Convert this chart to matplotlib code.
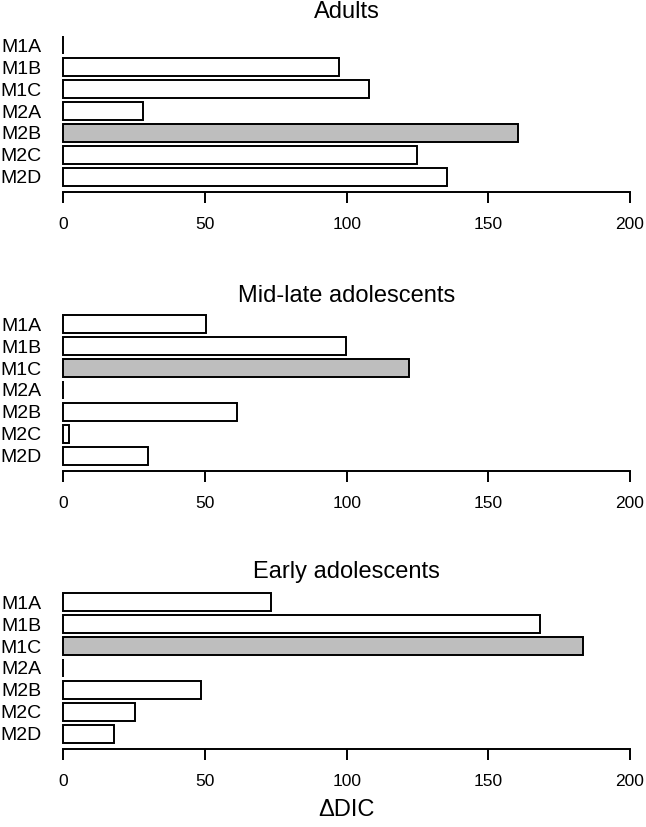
import numpy as np
import matplotlib.pyplot as plt

plt.rcParams['font.family'] = ['Liberation Sans', 'DejaVu Sans']

# model names, top to bottom
models = ['M1A', 'M1B', 'M1C', 'M2A', 'M2B', 'M2C', 'M2D']

# delta DIC per group
adults = [0, 97.2, 107.8, 28.0, 160.5, 125.0, 135.3]
mid_late = [50.4, 99.7, 121.9, 0, 61.4, 1.9, 29.8]
early = [73.3, 168.1, 183.5, 0, 48.6, 25.4, 17.9]

# which model is highlighted in grey for each group
best = ['M2B', 'M1C', 'M1C']

titles = ['Adults', 'Mid-late adolescents', 'Early adolescents']
xticks = [0, 50, 100, 150, 200]

W, H = 646, 827
fig = plt.figure(figsize=(W / 100, H / 100), dpi=100)

# axes placement in pixels (top, bottom) and title pad per panel
left_px, right_px = 63.3, 630
panels = [(30, 192, 8.4), (309, 471, 5.3), (587, 749, 6.3)]

# R barplot style positions: width 1, space 0.2, first bar on top
n = len(models)
ypos = 0.2 + 1.2 * np.arange(n) + 0.5
ypos = ypos[::-1]

for i, (vals, ttl, hl) in enumerate(zip([adults, mid_late, early], titles, best)):
    top, bot, tpad = panels[i]
    ax = fig.add_axes([left_px / W, 1 - bot / H, (right_px - left_px) / W, (bot - top) / H])
    colors = ['#BEBEBE' if m == hl else 'white' for m in models]
    ax.barh(ypos, vals, height=1.0, color=colors, edgecolor='black',
            linewidth=1.4, clip_on=False)
    ax.set_xlim(0, 200)
    ax.set_ylim(0.2 - 0.328, 8.4 + 0.328)
    ax.set_yticks(ypos)
    ax.set_yticklabels(models, fontsize=14)
    ax.tick_params(axis='y', length=0, pad=15.5)
    ax.set_xticks(xticks)
    ax.set_xticklabels([str(t) for t in xticks], fontsize=12.5)
    ax.tick_params(axis='x', length=8, width=1.4, pad=10)
    for s in ['left', 'right', 'top']:
        ax.spines[s].set_visible(False)
    ax.spines['bottom'].set_linewidth(1.4)
    ax.set_title(ttl, fontsize=17, pad=tpad)
    if i == 2:
        ax.set_xlabel('ΔDIC', fontsize=17, labelpad=7)

fig.savefig('out.png', dpi=100)
